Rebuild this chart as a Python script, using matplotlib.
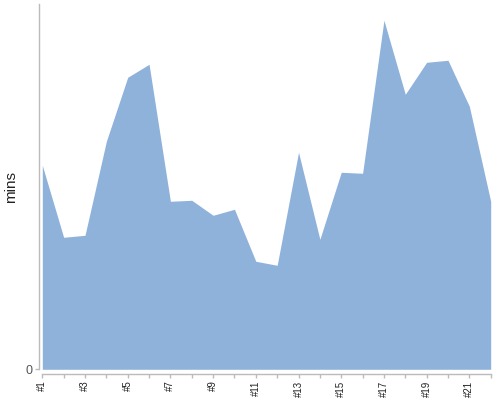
import matplotlib
matplotlib.use("Agg")
from matplotlib import pyplot as plt

plt.rcParams['font.family'] = ['Liberation Sans', 'DejaVu Sans']

labels = ['#%d' % i for i in range(1, 23)]
mins = [204, 132, 134, 228, 292, 305, 168, 169, 154, 160, 108,
        104, 217, 130, 197, 196, 349, 275, 307, 309, 263, 168]

fig = plt.figure(figsize=(5, 4), dpi=100)
ax = fig.add_axes([0.0846, 0.0768, 0.8968, 0.9125])

x = list(range(len(mins)))
ax.fill_between(x, 0, mins, color='#8FB2DA', linewidth=0)

ax.set_xlim(0, len(mins) - 1)
ax.set_ylim(0, 365)

for s in ['top', 'right']:
    ax.spines[s].set_visible(False)
ax.spines['left'].set_position(('outward', 2.2))
ax.spines['bottom'].set_position(('outward', 3.6))
for s in ['left', 'bottom']:
    ax.spines[s].set_color('#bbbbbb')
    ax.spines[s].set_linewidth(1)

ax.set_xticks(x)
ax.set_xticklabels([l if i % 2 == 0 else '' for i, l in enumerate(labels)],
                   rotation=90, fontsize=7)
ax.set_yticks([0])
ax.set_yticklabels(['0'], fontsize=9)
ax.tick_params(axis='both', colors='#bbbbbb', length=3, width=1)
ax.tick_params(axis='x', pad=1.5)
ax.tick_params(axis='y', pad=2)
for t in ax.get_xticklabels():
    t.set_color('#222222')
for t in ax.get_yticklabels():
    t.set_color('#555555')

ax.set_ylabel('mins', fontsize=11, color='#222222')
ax.yaxis.set_label_coords(-0.053, 0.5)

fig.savefig('out.png', dpi=100)
